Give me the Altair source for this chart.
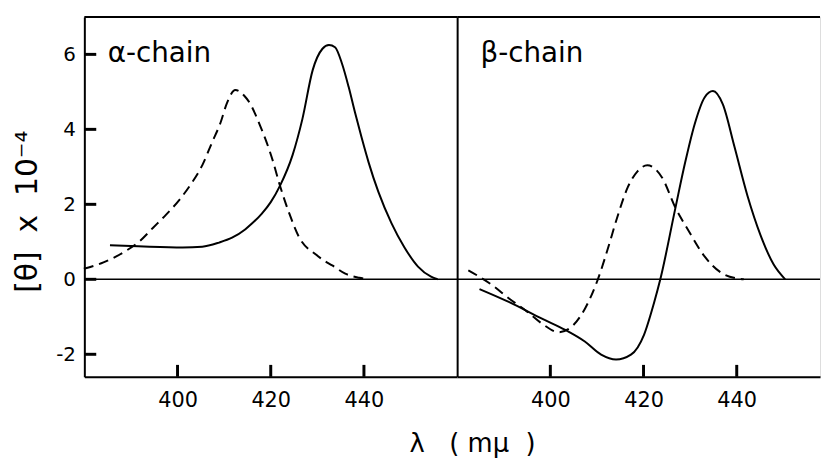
import altair as alt
import pandas as pd

# ---- data ----
alpha_solid_lam = [385.5, 390.0, 394.0, 401.1, 405.3, 408.9, 411.7, 414.5, 415.9, 418.0, 420.0, 422.0, 424.7,
                   426.8, 429.0, 431.1, 432.5, 433.8, 435.3, 436.7, 438.1, 439.5, 441.0, 443.1, 445.9,
                   448.7, 451.6, 454.4, 455.8]
alpha_solid_val = [0.91, 0.89, 0.87, 0.85, 0.87, 0.98, 1.11, 1.33, 1.48, 1.74, 2.06, 2.50, 3.32,
                   4.28, 5.58, 6.15, 6.25, 6.19, 5.75, 5.14, 4.44, 3.78, 3.12, 2.33, 1.50,
                   0.85, 0.34, 0.07, 0.0]

alpha_dash_lam = [379.9, 384.1, 388.4, 391.9, 394.7, 397.5, 400.4, 403.2, 405.3, 407.4, 409.2, 410.6, 412.4,
                  414.5, 415.2, 418.0, 419.1, 420.5, 421.9, 424.0, 426.1, 429.7, 431.7, 433.2, 436.0,
                  439.0, 441.0]
alpha_dash_val = [0.28, 0.45, 0.72, 1.02, 1.37, 1.72, 2.12, 2.60, 3.04, 3.65, 4.17, 4.70, 5.05,
                  4.87, 4.76, 4.01, 3.66, 3.14, 2.53, 1.75, 1.12, 0.66, 0.48, 0.37, 0.15,
                  0.04, 0.0]

beta_solid_lam = [384.8, 391.2, 398.2, 403.2, 407.4, 410.9, 414.1, 417.3, 420.1, 422.2, 423.6, 426.8, 428.9,
                  431.0, 433.1, 434.9, 437.0, 439.5, 442.3, 445.1, 447.9, 450.4]
beta_solid_val = [-0.26, -0.61, -1.05, -1.35, -1.66, -2.01, -2.14, -2.01, -1.48, -0.65, 0.0, 1.88, 3.1,
                  4.15, 4.85, 5.02, 4.67, 3.54, 2.23, 1.18, 0.40, 0.0]

beta_dash_lam = [382.4, 387.7, 391.2, 394.7, 398.2, 401.8, 404.6, 407.4, 410.2, 412.3, 414.4, 416.6, 418.7,
                 420.8, 424.0, 426.8, 429.6, 433.1, 436.6, 440.2, 441.5]
beta_dash_val = [0.24, -0.17, -0.52, -0.83, -1.18, -1.41, -1.26, -0.79, 0.0, 0.8, 1.67, 2.45, 2.88,
                 3.04, 2.71, 1.92, 1.31, 0.61, 0.18, 0.02, 0.0]

x_ticks = [400, 420, 440]
y_ticks = [-2, 0, 2, 4, 6]
panel_labels = ["α-chain", "β-chain"]
NB = "\u00a0"
y_title = f"[θ]{NB*2}x{NB*2}10⁻⁴"
x_title = f"λ{NB*3}({NB}mμ{NB*2})"

FONT = "DejaVu Sans"
H = 363
W_LEFT = 376
W_RIGHT = 366
PX_PER_NM = 4.7
Y_DOMAIN = [-2.6, 7.0]
X_MIN = 380
TICK_PX = 12


def panel(sl, sv, dl, dv, label, width, left):
    xmax = X_MIN + width / PX_PER_NM
    xscale = alt.Scale(domain=[X_MIN, xmax], nice=False, zero=False)
    yscale = alt.Scale(domain=Y_DOMAIN, nice=False, zero=False)
    xaxis = alt.Axis(values=x_ticks, ticks=False, grid=False, domain=True, domainWidth=2,
                     domainColor="black", labelPadding=13, labelFontSize=21, labelFont=FONT,
                     labelColor="black", format="d")
    if left:
        yaxis = alt.Axis(values=y_ticks, ticks=False, grid=False, domain=True, domainWidth=2,
                         domainColor="black", labelPadding=9, labelFontSize=20, labelFont=FONT,
                         labelColor="black",
                         labelExpr="datum.value < 0 ? '-' + abs(datum.value) : datum.label",
                         titleFontSize=30, titleFont=FONT,
                         titleFontWeight="normal", titleColor="black", titlePadding=13, titleY=196)
        ytitle = y_title
    else:
        yaxis = alt.Axis(labels=False, ticks=False, grid=False, domain=True, domainWidth=2,
                         domainColor="black")
        ytitle = None

    solid = pd.DataFrame({"lam": sl, "v": sv})
    dash = pd.DataFrame({"lam": dl, "v": dv})

    X = alt.X("lam:Q", scale=xscale, axis=xaxis, title=None)
    Y = alt.Y("v:Q", scale=yscale, axis=yaxis, title=ytitle)

    solid_line = alt.Chart(solid).mark_line(color="black", strokeWidth=2, interpolate="monotone").encode(x=X, y=Y)
    dash_line = alt.Chart(dash).mark_line(color="black", strokeWidth=2, strokeDash=[10, 6],
                                         interpolate="monotone").encode(x=X, y=Y)

    zero = alt.Chart(pd.DataFrame({"v": [0]})).mark_rule(color="black", strokeWidth=1.5).encode(y=Y)
    top = alt.Chart(pd.DataFrame({"a": [0]})).mark_rule(color="black", strokeWidth=2).encode(
        y=alt.value(0), x=alt.value(0), x2=alt.value(width))

    # inward tick marks on the bottom axis
    ylen = TICK_PX * (Y_DOMAIN[1] - Y_DOMAIN[0]) / H
    xt_df = pd.DataFrame({"lam": x_ticks})
    xt_df["lo"] = Y_DOMAIN[0]
    xt_df["hi"] = Y_DOMAIN[0] + ylen
    xt = alt.Chart(xt_df).mark_rule(color="black", strokeWidth=3).encode(
        x=X, y=alt.Y("lo:Q", scale=yscale, axis=yaxis, title=ytitle), y2="hi:Q")

    txt = alt.Chart(pd.DataFrame({"lam": [385.0], "v": [6.0], "t": [label]})).mark_text(
        align="left", baseline="middle", fontSize=28, font=FONT, color="black").encode(
        x=X, y=Y, text="t:N")

    layers = [zero, top, dash_line, solid_line, txt, xt]
    if left:
        # inward tick marks on the left axis
        xlen = TICK_PX / PX_PER_NM
        yt_df = pd.DataFrame({"v": y_ticks})
        yt_df["x0"] = X_MIN
        yt_df["x1"] = X_MIN + xlen
        yt = alt.Chart(yt_df).mark_rule(color="black", strokeWidth=3).encode(
            y=Y, x=alt.X("x0:Q", scale=xscale, axis=xaxis, title=None), x2="x1:Q")
        layers.append(yt)
    return alt.layer(*layers).properties(width=width, height=H)


left = panel(alpha_solid_lam, alpha_solid_val, alpha_dash_lam, alpha_dash_val, panel_labels[0],
             W_LEFT, True)
right = panel(beta_solid_lam, beta_solid_val, beta_dash_lam, beta_dash_val, panel_labels[1],
              W_RIGHT, False)

chart = alt.hconcat(left, right, spacing=0, bounds="flush").properties(
    padding={"left": 4, "top": 5, "right": 0, "bottom": 5},
    title=alt.TitleParams(text=x_title, orient="bottom", anchor="middle", fontSize=26, font=FONT,
                          fontWeight="normal", color="black", offset=20, dx=56),
).resolve_scale(x="independent").configure_view(stroke=None).configure(background="white")

chart.save("out.html", embed_options={"renderer": "svg", "actions": False})
